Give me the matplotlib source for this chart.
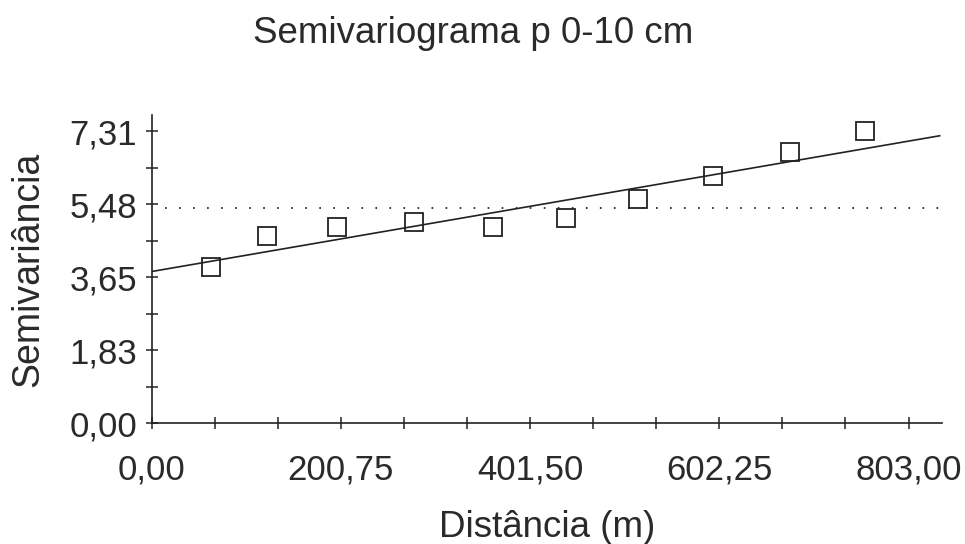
import matplotlib
matplotlib.use("Agg")
import matplotlib.pyplot as plt
from matplotlib.ticker import FixedLocator, FixedFormatter, MultipleLocator

plt.rcParams['font.family'] = ['Liberation Sans', 'DejaVu Sans']
plt.rcParams['lines.scale_dashes'] = False

# data
lag_dist = [62.6, 122.7, 196.7, 278.0, 362.5, 439.2, 516.2, 595.4, 677.0, 756.3]
semivar = [3.92, 4.69, 4.91, 5.03, 4.92, 5.14, 5.62, 6.20, 6.79, 7.31]
model_x = [0.0, 836.0]
model_y = [3.80, 7.20]
sill_x = [14.0, 836.0]
sill_y = [5.38, 5.38]
x_ticks = [0.0, 200.75, 401.5, 602.25, 803.0]
x_tick_labels = ["0,00", "200,75", "401,50", "602,25", "803,00"]
y_ticks = [0.0, 1.8275, 3.655, 5.4825, 7.31]
y_tick_labels = ["0,00", "1,83", "3,65", "5,48", "7,31"]

dark = '#222222'
text_col = '#2a2a2a'
fig = plt.figure(figsize=(9.65, 5.44), dpi=100)
ax = fig.add_axes([151.5/965, 1-423.3/544, (942.5-151.5)/965, (423.3-115)/544])

ax.plot(sill_x, sill_y, color=dark, lw=1.3, dashes=(1.2, 8.9))
ax.plot(model_x, model_y, color=dark, lw=1.2)
ax.plot(lag_dist, semivar, ls='none', marker='s', ms=13.5, mfc='none',
        mec=dark, mew=1.3)

ax.set_xlim(0, 839)
ax.set_ylim(0, 7.72)
for s in ['top', 'right']:
    ax.spines[s].set_visible(False)
for s in ['left', 'bottom']:
    ax.spines[s].set_linewidth(1.2)
    ax.spines[s].set_color(dark)

ax.xaxis.set_major_locator(FixedLocator(x_ticks))
ax.xaxis.set_major_formatter(FixedFormatter(x_tick_labels))
ax.xaxis.set_minor_locator(MultipleLocator(x_ticks[1] / 3))
ax.yaxis.set_major_locator(FixedLocator(y_ticks))
ax.yaxis.set_major_formatter(FixedFormatter(y_tick_labels))
ax.yaxis.set_minor_locator(MultipleLocator(y_ticks[1] / 2))

ax.tick_params(axis='both', which='both', direction='inout', length=8.5,
               width=1.1, color=dark, labelsize=25, labelcolor=text_col)
ax.tick_params(axis='x', which='major', pad=17.6)
ax.tick_params(axis='y', which='major', pad=6)

ax.set_xlabel("Distância (m)", fontsize=26.5, color=text_col, labelpad=17)
ax.set_ylabel("Semivariância", fontsize=27, color=text_col, labelpad=16.5)
fig.text(473/965, 1-43.3/544, "Semivariograma p 0-10 cm", ha='center', va='baseline',
         fontsize=26.5, color=text_col)

fig.savefig("out.png", dpi=100)
